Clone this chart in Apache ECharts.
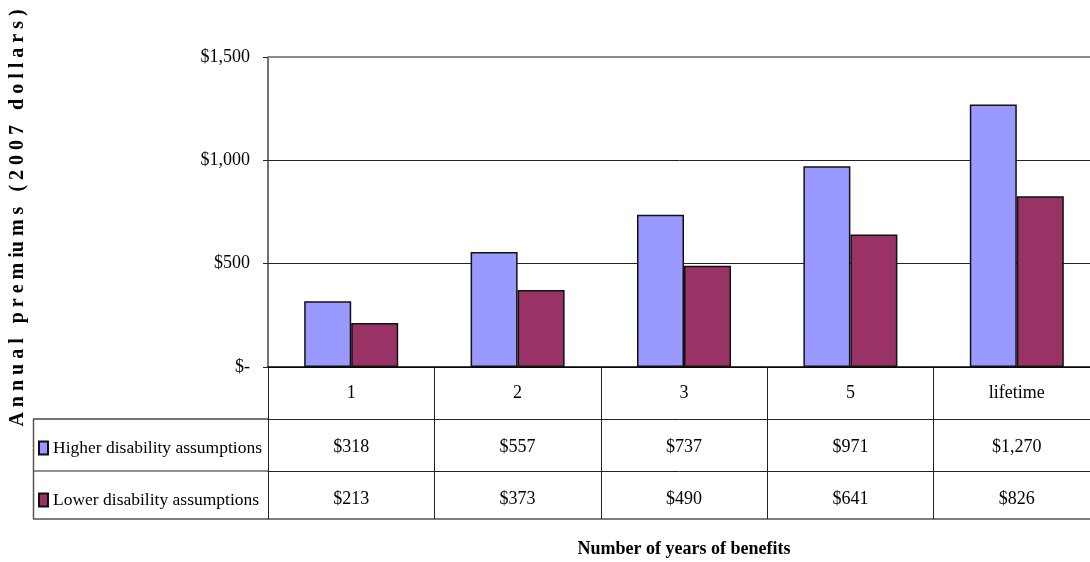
<!DOCTYPE html>
<html>
<head>
<meta charset="utf-8">
<script src="https://cdn.jsdelivr.net/npm/echarts@6/dist/echarts.min.js"></script>
<style>
html,body{margin:0;padding:0;background:#fff;}
#chart{width:1090px;height:562px;}
</style>
</head>
<body>
<div id="chart"></div>
<script>
const categories = ['1', '2', '3', '5', 'lifetime'];
const higherValues = [318, 557, 737, 971, 1270];
const lowerValues = [213, 373, 490, 641, 826];
const seriesNames = ['Higher disability assumptions', 'Lower disability assumptions'];
const yTicks = [0, 500, 1000, 1500];

function money(v) {
  if (v === 0) return '$-';
  return '$' + v.toLocaleString('en-US');
}

const FONT = '"Liberation Serif", "Times New Roman", serif';
const chart = echarts.init(document.getElementById('chart'), null, {renderer: 'canvas'});

const GL = 268, GT = 57, GW = 832, GH = 310;
const ROW = 52;

const option = {
  animation: false,
  backgroundColor: '#fff',
  textStyle: {fontFamily: FONT},
  grid: {left: GL, top: GT, width: GW, height: GH, containLabel: false, outerBoundsMode: 'none'},
  legend: {
    orient: 'vertical',
    left: 38,
    top: GT + GH + ROW + 20,
    padding: 0,
    itemGap: 34,
    itemWidth: 9,
    itemHeight: 13,
    icon: 'rect',
    selectedMode: false,
    textStyle: {fontFamily: FONT, fontSize: 17.5, color: '#000'},
    data: seriesNames
  },
  xAxis: [
    {
      type: 'category', data: categories, position: 'bottom',
      axisLine: {lineStyle: {color: '#000', width: 1.5}},
      axisTick: {show: true, length: ROW * 3 - 4, interval: 0, lineStyle: {color: '#222', width: 1}},
      axisLabel: {fontFamily: FONT, fontSize: 18, color: '#000', margin: 17, interval: 0},
      splitLine: {show: false}
    },
    {
      type: 'category', data: higherValues.map(money), position: 'bottom', offset: ROW,
      axisLine: {lineStyle: {color: '#222', width: 1}},
      axisTick: {show: false},
      axisLabel: {fontFamily: FONT, fontSize: 18, color: '#000', margin: 19, interval: 0}
    },
    {
      type: 'category', data: lowerValues.map(money), position: 'bottom', offset: ROW * 2,
      axisLine: {lineStyle: {color: '#222', width: 1}},
      axisTick: {show: false},
      axisLabel: {fontFamily: FONT, fontSize: 18, color: '#000', margin: 19, interval: 0}
    },
    {
      type: 'category', data: categories, position: 'bottom', offset: ROW * 3 - 4,
      axisLine: {lineStyle: {color: '#555', width: 1.5}},
      axisTick: {show: false},
      axisLabel: {show: false},
      name: 'Number of years of benefits',
      nameLocation: 'middle',
      nameGap: 21,
      nameTextStyle: {fontFamily: FONT, fontSize: 18, fontWeight: 'bold', color: '#000', padding: [0, 0, 0, 0]}
    }
  ],
  yAxis: {
    type: 'value', min: 0, max: 1500, interval: 500,
    axisLine: {show: true, lineStyle: {color: '#444', width: 1.5}},
    axisTick: {show: true, length: 5, lineStyle: {color: '#222'}},
    axisLabel: {fontFamily: FONT, fontSize: 18, color: '#000', margin: 18,
      formatter: function (v) { return money(v); }},
    splitLine: {show: true, lineStyle: {color: ['#222', '#222', '#222', '#8a8a8a'], width: 1}}
  },
  series: [
    {
      name: seriesNames[0], type: 'bar', xAxisIndex: 0, data: higherValues,
      barWidth: 47, barGap: '0%',
      itemStyle: {color: '#9999FF', borderColor: '#111', borderWidth: 1.5}
    },
    {
      name: seriesNames[1], type: 'bar', xAxisIndex: 0, data: lowerValues,
      barWidth: 47, barGap: '0%',
      itemStyle: {color: '#993366', borderColor: '#111', borderWidth: 1.5}
    }
  ],
  graphic: [
    {type: 'line', shape: {x1: 33, y1: GT + GH + ROW, x2: GL, y2: GT + GH + ROW}, style: {stroke: '#444', lineWidth: 1.5}},
    {type: 'line', shape: {x1: 33, y1: GT + GH + ROW * 2, x2: GL, y2: GT + GH + ROW * 2}, style: {stroke: '#222', lineWidth: 1}},
    {type: 'line', shape: {x1: 33, y1: GT + GH + ROW * 3 - 4, x2: GL, y2: GT + GH + ROW * 3 - 4}, style: {stroke: '#555', lineWidth: 1.5}},
    {type: 'line', shape: {x1: 33.5, y1: GT + GH + ROW, x2: 33.5, y2: GT + GH + ROW * 3 - 4}, style: {stroke: '#555', lineWidth: 1.5}},
    {type: 'line', shape: {x1: GL, y1: GT, x2: GL + GW, y2: GT}, style: {stroke: '#8a8a8a', lineWidth: 2}, z: 10},
    {
      type: 'text', x: 18, y: 218, rotation: Math.PI / 2,
      style: {
        text: 'A n n u a l   p r e m iu m s   ( 2 0 0 7   d o l l a r s )',
        fontFamily: FONT, fontSize: 20, fontWeight: 'bold', fill: '#000',
        align: 'center', verticalAlign: 'middle'
      }
    }
  ]
};
chart.setOption(option);
</script>
</body>
</html>
